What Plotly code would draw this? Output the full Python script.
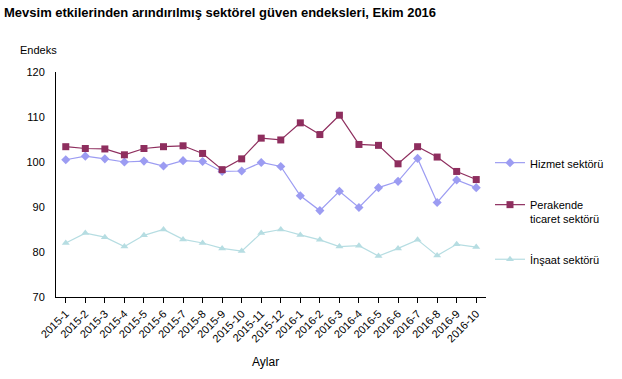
import plotly.graph_objects as go

months = ["2015-1", "2015-2", "2015-3", "2015-4", "2015-5", "2015-6", "2015-7",
          "2015-8", "2015-9", "2015-10", "2015-11", "2015-12", "2016-1", "2016-2",
          "2016-3", "2016-4", "2016-5", "2016-6", "2016-7", "2016-8", "2016-9", "2016-10"]
hizmet = [100.5, 101.3, 100.7, 100.0, 100.2, 99.1, 100.3, 100.1, 97.9, 98.0, 99.9,
          99.0, 92.5, 89.2, 93.5, 89.9, 94.3, 95.7, 100.8, 91.0, 96.0, 94.3]
perakende = [103.4, 103.0, 102.9, 101.6, 103.0, 103.4, 103.6, 101.9, 98.3, 100.7, 105.3,
             104.9, 108.7, 106.1, 110.4, 103.9, 103.7, 99.6, 103.4, 101.1, 97.9, 96.1]
insaat = [82.0, 84.2, 83.3, 81.2, 83.7, 85.0, 82.8, 82.0, 80.8, 80.2, 84.2,
          85.0, 83.8, 82.7, 81.2, 81.4, 79.1, 80.8, 82.7, 79.2, 81.7, 81.1]
y_ticks = [70, 80, 90, 100, 110, 120]

FONT = "Liberation Sans, Arial, sans-serif"
L, R, T, B = 55.5, 136, 72, 82
PW = 622 - L - R
PH = 379 - T - B

fig = go.Figure()
fig.add_trace(go.Scatter(
    x=months, y=hizmet, name="Hizmet sektörü", mode="lines+markers",
    line=dict(color="#9C9CF2", width=1.2),
    marker=dict(symbol="diamond", size=7, color="#9C9CF2"),
    legendgroup="a"))
fig.add_trace(go.Scatter(
    x=months, y=perakende, name="Perakende<br>ticaret sektörü", mode="lines+markers",
    line=dict(color="#8E2E5E", width=1.2),
    marker=dict(symbol="square", size=7, color="#8E2E5E"),
    legendgroup="b"))
fig.add_trace(go.Scatter(
    x=months, y=insaat, name="İnşaat sektörü", mode="lines+markers",
    line=dict(color="#B6DDE2", width=1.2),
    marker=dict(symbol="triangle-up", size=7, color="#B6DDE2"),
    legendgroup="c"))

fig.update_layout(
    width=622, height=379,
    margin=dict(l=L, r=R, t=T, b=B, autoexpand=False),
    paper_bgcolor="white", plot_bgcolor="white",
    font=dict(family=FONT, size=11, color="#000000"),
    showlegend=True,
    legend=dict(
        xref="container", yref="container",
        x=490 / 622, y=1 - 149 / 379, xanchor="left", yanchor="top",
        font=dict(family=FONT, size=11, color="#000000"),
        tracegroupgap=23, valign="top", itemwidth=30,
        bgcolor="rgba(0,0,0,0)"),
    xaxis=dict(
        type="category", range=[-0.5, 21.5], automargin=False,
        showline=True, linecolor="#000000", linewidth=1,
        ticks="outside", ticklen=5, tickcolor="#000000",
        tickangle=-45, showgrid=False, zeroline=False,
        tickfont=dict(family=FONT, size=11, color="#000000")),
    yaxis=dict(
        range=[70, 120], tickvals=y_ticks, automargin=False,
        showline=True, linecolor="#000000", linewidth=1,
        ticks="", showgrid=False, zeroline=False,
        ticklabelstandoff=8,
        tickfont=dict(family=FONT, size=11, color="#000000")),
)

fig.add_annotation(text="<b>Mevsim etkilerinden arındırılmış sektörel güven endeksleri, Ekim 2016</b>",
                   xref="paper", yref="paper", x=(1 - L) / PW, y=1 + (T - 12) / PH,
                   xanchor="left", yanchor="middle", showarrow=False,
                   font=dict(family=FONT, size=13, color="#000000"))
fig.add_annotation(text="Endeks",
                   xref="paper", yref="paper", x=(17 - L) / PW, y=1 + (T - 50.5) / PH,
                   xanchor="left", yanchor="middle", showarrow=False,
                   font=dict(family=FONT, size=11, color="#000000"))
fig.add_annotation(text="Aylar",
                   xref="paper", yref="paper", x=(265 - L) / PW, y=-(361.5 - T - PH) / PH,
                   xanchor="center", yanchor="middle", showarrow=False,
                   font=dict(family=FONT, size=12, color="#000000"))

fig.write_html("out.html",
               config={"displayModeBar": False},
               post_script="document.body.style.margin='0';document.body.style.overflow='hidden';")
